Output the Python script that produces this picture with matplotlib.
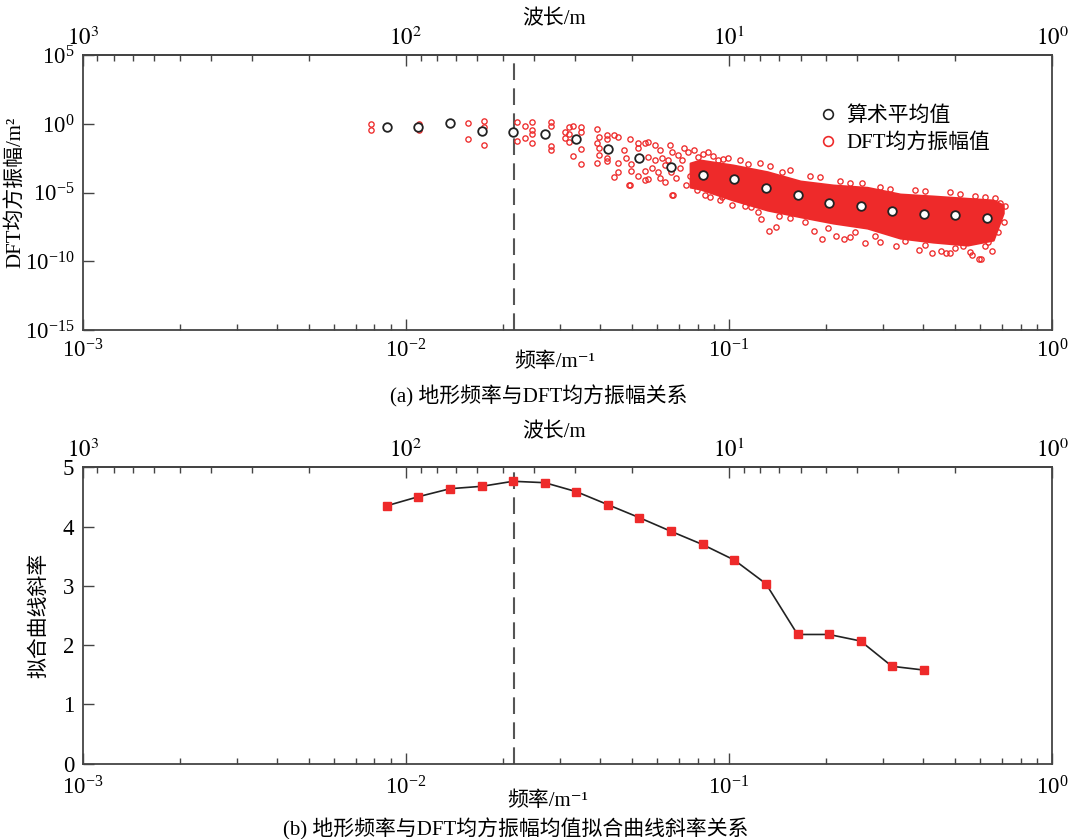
import numpy as np
import matplotlib
matplotlib.use('Agg')
import matplotlib.pyplot as plt
from matplotlib.ticker import NullLocator, FixedLocator
from matplotlib.lines import Line2D

plt.rcParams['font.family'] = ['Liberation Serif', 'Noto Sans CJK SC', 'DejaVu Sans']
plt.rcParams['mathtext.fontset'] = 'stix'

# ---------------- data ----------------
freq = [0.00875, 0.01094, 0.01372, 0.01719, 0.02149, 0.02694, 0.03375, 0.04221,
        0.05287, 0.06613, 0.08286, 0.1039, 0.1302, 0.1631, 0.2040, 0.2555,
        0.3196, 0.4004, 0.5020, 0.6291]
mean_amp = [0.600, 0.600, 1.114, 0.307, 0.259, 0.176, 0.0762, 0.01426,
            0.00348, 7.33e-4, 2.01e-4, 9.31e-5, 2.06e-5, 7.03e-6, 1.66e-6,
            1.057e-6, 4.57e-7, 2.90e-7, 2.45e-7, 1.41e-7]
slope = [4.352, 4.504, 4.639, 4.679, 4.764, 4.740, 4.588, 4.369, 4.149,
         3.920, 3.697, 3.435, 3.035, 2.178, 2.178, 2.068, 1.641, 1.578]
cut_freq = 0.0216
wavelength_ticks = [1000, 100, 10, 1]

# individual DFT mean-square amplitude points (log10 frequency, log10 amplitude)
dft_logf = [-2.107, -2.107, -1.958, -1.958, -1.958, -1.807, -1.807, -1.759, -1.759, -1.759,
            -1.656, -1.656, -1.631, -1.631, -1.608, -1.608, -1.608, -1.608, -1.551, -1.551,
            -1.551, -1.551, -1.507, -1.507, -1.494, -1.494, -1.494, -1.481, -1.481, -1.457,
            -1.457, -1.457, -1.457, -1.409, -1.409, -1.409, -1.401, -1.401, -1.401, -1.377,
            -1.377, -1.377, -1.377, -1.355, -1.355, -1.342, -1.342, -1.342, -1.324, -1.318,
            -1.306, -1.306, -1.302, -1.302, -1.282, -1.282, -1.282, -1.259, -1.259, -1.259,
            -1.249, -1.249, -1.249, -1.228, -1.228, -1.213, -1.213, -1.197, -1.197, -1.182,
            -1.176, -1.179, -1.172, -1.157, -1.151, -1.138, -1.132,
            -1.237, -1.219, -1.207, -1.188, -1.163, -1.145, -1.126, -1.120, -1.107, -1.098,
            -1.080, -1.049, -1.018, -0.965, -0.903, -0.810, -0.717, -0.624, -0.532, -0.423,
            -0.315, -0.206, -0.160,
            -1.058, -1.020, -0.989, -0.933, -0.901, -0.877, -0.853, -0.844, -0.738, -0.711,
            -0.668, -0.645, -0.624, -0.578, -0.531, -0.482, -0.411, -0.371, -0.342, -0.328,
            -0.315, -0.274, -0.253, -0.248, -0.226, -0.219, -0.187, -0.197, -1.176, -1.308,
            -1.095, -1.064, -1.033, -1.002, -0.940, -0.872, -0.835, -0.748, -0.655, -0.587,
            -0.501, -0.392, -0.284, -0.238, -0.176, -0.145,
            -1.073, -1.027, -0.950, -0.909, -0.810, -0.764, -0.693, -0.609, -0.547, -0.454,
            -0.392, -0.299, -0.206, -0.166, -0.148]
dft_loga = [-0.026, -0.419, -0.004, -0.222, -0.441, 0.047, -1.118, 0.237, -0.200, -1.533,
            0.120, -1.264, -0.127, -1.045, 0.142, -0.441, -0.710, -1.366, 0.120, -0.127,
            -1.606, -1.897, -0.586, -1.001, -0.200, -0.732, -1.336, -0.127, -2.312, -0.200,
            -0.564, -1.846, -2.895, -0.390, -1.366, -2.866, -0.929, -1.730, -2.262, -0.805,
            -1.118, -2.458, -2.699, -0.783, -3.886, -0.972, -2.822, -3.478, -1.897, -2.480,
            -1.096, -4.447, -2.939, -3.449, -1.366, -1.774, -3.791, -1.366, -3.427, -4.082,
            -1.293, -2.385, -4.031, -1.533, -2.626, -1.897, -3.937, -2.990, -4.228, -1.533,
            -2.043, -3.500, -5.175, -2.262, -3.208, -1.752, -4.447,
            -3.208, -3.500, -2.480, -2.626, -3.937, -2.626, -2.043, -3.791, -1.897, -4.811,
            -2.167, -2.312, -2.531, -2.626, -2.844, -3.354, -3.864, -4.301, -4.592, -4.811,
            -4.956, -5.320, -5.758,
            -5.342, -5.299, -5.925, -6.027, -6.901, -7.775, -7.505, -6.726, -7.797, -8.358,
            -8.139, -8.401, -8.256, -8.649, -8.598, -8.889, -9.159, -9.399, -9.254, -9.399,
            -9.421, -8.889, -9.326, -9.567, -9.858, -9.814, -9.232, -8.576, -5.153, -4.425,
            -2.407, -2.043, -2.626, -2.480, -2.917, -3.063, -3.500, -3.791, -4.155, -4.301,
            -4.738, -4.884, -5.102, -5.248, -5.393, -5.976,
            -5.175, -5.539, -5.976, -6.413, -6.850, -7.141, -7.578, -7.870, -8.161, -8.525,
            -8.816, -9.035, -8.889, -7.870, -7.141]

# dense part of the DFT cloud: upper / lower envelope (log10 values)
band_logf = [-1.120, -1.089, -0.987, -0.881, -0.779, -0.677, -0.572, -0.470, -0.368,
             -0.262, -0.182, -0.151]
band_upper = [-2.844, -2.626, -2.990, -3.478, -4.155, -4.447, -4.614, -5.102, -5.248,
              -5.415, -5.539, -5.903]
band_lower = [-4.592, -4.738, -5.539, -6.267, -6.755, -7.214, -7.578, -8.307, -8.598,
              -8.816, -8.452, -6.486]

RED = '#EE2A2A'
SPINE = '#444444'
FS = 15
TFS = 16.5

W, H = 1074, 839
fig = plt.figure(figsize=(W / 100, H / 100), dpi=100)


def px_axes(l, t, r, b):
    return fig.add_axes([l / W, 1 - b / H, (r - l) / W, (b - t) / H])


def inv(x):
    x = np.asarray(x, dtype=float)
    with np.errstate(divide='ignore', invalid='ignore'):
        return 1.0 / x


def style_axes(ax, xpad=7):
    for s in ax.spines.values():
        s.set_color(SPINE)
        s.set_linewidth(1.3)
    ax.tick_params(which='both', direction='in', top=False, right=False,
                   color=SPINE, labelsize=TFS, width=1.0)
    ax.tick_params(which='major', length=8)
    ax.tick_params(axis='x', which='major', pad=xpad)
    ax.tick_params(axis='y', which='major', pad=6)
    ax.tick_params(which='minor', length=4.5)
    sec = ax.secondary_xaxis('top', functions=(inv, inv))
    sec.xaxis.set_major_locator(FixedLocator(wavelength_ticks))
    sec.set_xticklabels([r'$10^{%d}$' % int(round(np.log10(v))) for v in wavelength_ticks])
    sec.tick_params(which='both', direction='in', color=SPINE, labelsize=TFS, width=1.0)
    sec.tick_params(which='major', length=8, pad=4)
    sec.tick_params(which='minor', length=4.5)
    sec.spines['top'].set_color(SPINE)
    sec.spines['top'].set_linewidth(1.3)
    return sec


# ---------------- (a) ----------------
ax1 = px_axes(82.7, 55.3, 1052, 330)
ax1.set_xscale('log')
ax1.set_yscale('log')
ax1.set_xlim(1e-3, 1)
ax1.set_ylim(1e-15, 1e5)
ax1.yaxis.set_major_locator(FixedLocator([1e-15, 1e-10, 1e-5, 1e0, 1e5]))
ax1.yaxis.set_minor_locator(NullLocator())
style_axes(ax1)

ax1.fill_between(10 ** np.array(band_logf), 10 ** np.array(band_lower),
                 10 ** np.array(band_upper), facecolor=RED, edgecolor=RED,
                 linewidth=1.5, zorder=2)
ax1.plot(10 ** np.array(dft_logf), 10 ** np.array(dft_loga), 'o', ls='none',
         mfc='none', mec=RED, ms=3.8, mew=0.95, zorder=3)
ax1.plot(freq, mean_amp, 'o', ls='none', mfc='white', mec='#222222', ms=6.2,
         mew=1.3, zorder=4)
ax1.axvline(cut_freq, color='#555555', lw=1.5, dashes=(8, 4), zorder=1)

handles = [Line2D([], [], ls='none', marker='o', mfc='white', mec='#222222', ms=7, mew=1.2),
           Line2D([], [], ls='none', marker='o', mfc='none', mec=RED, ms=7, mew=1.2)]
ax1.legend(handles, ['算术平均值', 'DFT均方振幅值'], loc='upper left',
           bbox_to_anchor=(0.745, 0.868), frameon=False, fontsize=FS,
           handlelength=0.8, handletextpad=0.5, labelspacing=0.35, borderpad=0.2)

ax1.set_ylabel('DFT均方振幅/m²', fontsize=FS, labelpad=0)

# ---------------- (b) ----------------
ax2 = px_axes(82.7, 467.3, 1052, 763.5)
ax2.set_xscale('log')
ax2.set_xlim(1e-3, 1)
ax2.set_ylim(0, 5)
ax2.yaxis.set_major_locator(FixedLocator([0, 1, 2, 3, 4, 5]))
ax2.yaxis.set_minor_locator(NullLocator())
style_axes(ax2, xpad=9)

ax2.plot(freq[:len(slope)], slope, '-', color='#222222', lw=1.2, zorder=3,
         marker='s', mfc=RED, mec=RED, ms=6)
ax2.axvline(cut_freq, color='#555555', lw=1.5, dashes=(8, 4), zorder=1)
ax2.set_ylabel('拟合曲线斜率', fontsize=FS, labelpad=10)

# ---------------- texts ----------------
def ftext(x, y, s, **kw):
    fig.text(x / W, 1 - y / H, s, ha='center', va='center', fontsize=FS, **kw)


ftext(554, 20, '波长/m')
ftext(555, 362, '频率/m⁻¹')
ftext(539, 396, '(a) 地形频率与DFT均方振幅关系')
ftext(554, 433, '波长/m')
ftext(548, 801, '频率/m⁻¹')
ftext(516, 829, '(b) 地形频率与DFT均方振幅均值拟合曲线斜率关系')

fig.savefig('out.png', dpi=100)
